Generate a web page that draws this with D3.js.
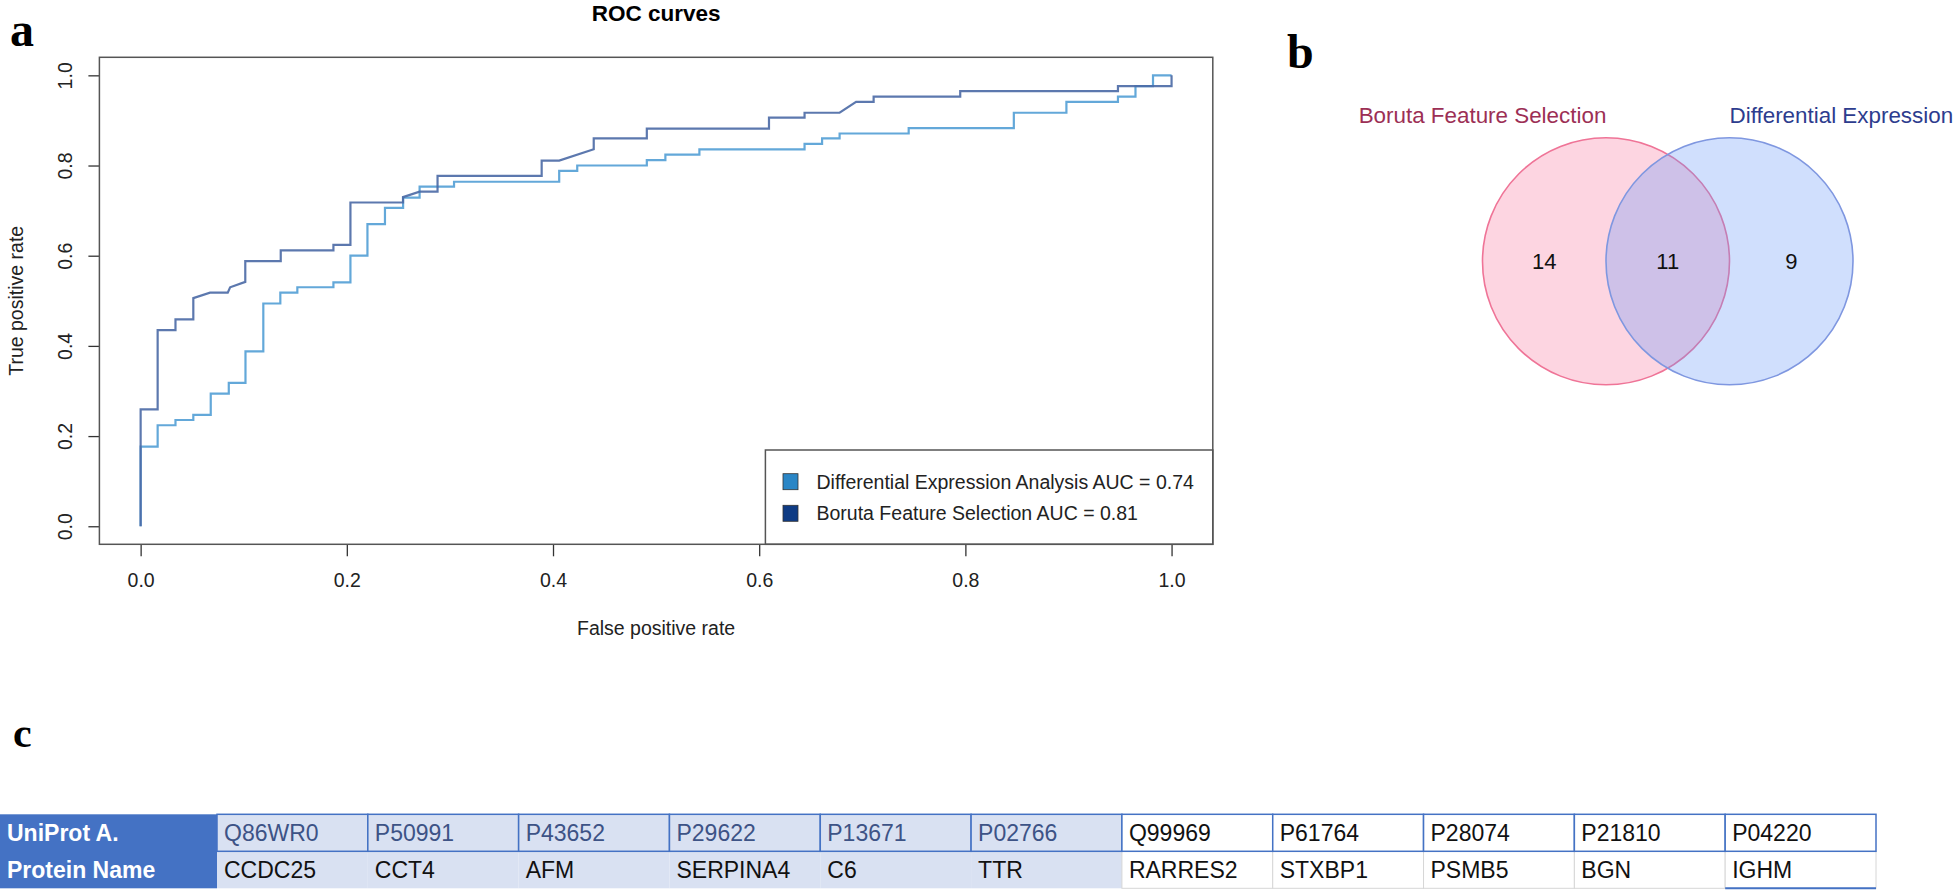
<!DOCTYPE html>
<html>
<head>
<meta charset="utf-8">
<script src="https://cdn.jsdelivr.net/npm/d3@7"></script>
<style>
  body { margin: 0; background: #fff; }
  svg { display: block; font-family: "Liberation Sans", Arial, sans-serif; }
</style>
</head>
<body>
<div id="fig"></div>
<script>
// ROC curve: Differential Expression Analysis
const deFpr = [0, 0, 0.0165, 0.0165, 0.0338, 0.0338, 0.0511, 0.0511, 0.068, 0.068, 0.0855, 0.0855,
  0.1017, 0.1017, 0.119, 0.119, 0.1355, 0.1355, 0.152, 0.152, 0.187, 0.187, 0.2035, 0.2035,
  0.22, 0.22, 0.237, 0.237, 0.2546, 0.2546, 0.2706, 0.2706, 0.304, 0.304, 0.406, 0.406,
  0.4235, 0.4235, 0.491, 0.491, 0.509, 0.509, 0.542, 0.542, 0.644, 0.644, 0.661, 0.661,
  0.678, 0.678, 0.745, 0.745, 0.847, 0.847, 0.898, 0.898, 0.948, 0.948, 0.965, 0.965,
  0.982, 0.982, 1];
const deTpr = [0, 0.1765, 0.1765, 0.224, 0.224, 0.2357, 0.2357, 0.247, 0.247, 0.294, 0.294, 0.318,
  0.318, 0.388, 0.388, 0.494, 0.494, 0.518, 0.518, 0.530, 0.530, 0.541, 0.541, 0.600,
  0.600, 0.670, 0.670, 0.706, 0.706, 0.7286, 0.7286, 0.753, 0.753, 0.764, 0.764, 0.788,
  0.788, 0.800, 0.800, 0.812, 0.812, 0.824, 0.824, 0.836, 0.836, 0.848, 0.848, 0.860,
  0.860, 0.871, 0.871, 0.883, 0.883, 0.917, 0.917, 0.941, 0.941, 0.953, 0.953, 0.976,
  0.976, 1, 1];

// ROC curve: Boruta Feature Selection
const borutaFpr = [0, 0, 0.0165, 0.0165, 0.0338, 0.0338, 0.0511, 0.0511, 0.0673, 0.0845, 0.0868,
  0.1015, 0.1015, 0.1359, 0.1359, 0.187, 0.187, 0.2035, 0.2035, 0.2545, 0.2545, 0.2706,
  0.288, 0.288, 0.389, 0.389, 0.406, 0.4395, 0.4395, 0.491, 0.491, 0.6095, 0.6095, 0.644,
  0.644, 0.678, 0.694, 0.711, 0.711, 0.795, 0.795, 0.948, 0.948, 1, 1];
const borutaTpr = [0, 0.259, 0.259, 0.435, 0.435, 0.459, 0.459, 0.506, 0.518, 0.518, 0.530,
  0.542, 0.588, 0.588, 0.612, 0.612, 0.624, 0.624, 0.718, 0.718, 0.730, 0.742,
  0.742, 0.777, 0.777, 0.811, 0.811, 0.836, 0.860, 0.860, 0.882, 0.882, 0.906, 0.906,
  0.917, 0.917, 0.941, 0.941, 0.953, 0.953, 0.965, 0.965, 0.976, 0.976, 1];

const rocTicks = [0, 0.2, 0.4, 0.6, 0.8, 1.0];
const legendLabels = ["Differential Expression Analysis AUC = 0.74", "Boruta Feature Selection AUC = 0.81"];

// Venn diagram
const vennSets = ["Boruta Feature Selection", "Differential Expression"];
const vennCounts = [14, 11, 9];

// Table
const rowLabels = ["UniProt A.", "Protein Name"];
const uniprotIds = ["Q86WR0", "P50991", "P43652", "P29622", "P13671", "P02766",
  "Q99969", "P61764", "P28074", "P21810", "P04220"];
const proteinNames = ["CCDC25", "CCT4", "AFM", "SERPINA4", "C6", "TTR",
  "RARRES2", "STXBP1", "PSMB5", "BGN", "IGHM"];
const sharedCount = 6;

const W = 1958, H = 892;
const svg = d3.select('#fig').append('svg').attr('width', W).attr('height', H);

const serif = '"Liberation Serif", "Times New Roman", serif';
function panelLabel(t, x, y, size) {
  svg.append('text').attr('x', x).attr('y', y).text(t)
    .style('font-family', serif).style('font-weight', 'bold').style('font-size', size + 'px');
}
panelLabel('a', 10, 46, 48);
panelLabel('b', 1287, 68, 48);
panelLabel('c', 13, 747, 42);

// ---------- ROC panel ----------
const plot = { left: 99.4, right: 1212.8, top: 57.3, bottom: 544.3 };
const x = d3.scaleLinear().domain([-0.04, 1.04]).range([plot.left, plot.right]);
const y = d3.scaleLinear().domain([-0.04, 1.04]).range([plot.bottom, plot.top]);
const fs = 19.5;
const colDE = '#63a8d9', colBoruta = '#4a69a5';

svg.append('text').attr('x', (plot.left + plot.right) / 2).attr('y', 20.5)
  .attr('text-anchor', 'middle').style('font-weight', 'bold').style('font-size', '22.5px')
  .text('ROC curves');

const xAxis = svg.append('g').attr('transform', `translate(0,${plot.bottom})`)
  .call(d3.axisBottom(x).tickValues(rocTicks).tickFormat(d3.format('.1f')).tickSize(12).tickPadding(17));
const yAxis = svg.append('g').attr('transform', `translate(${plot.left},0)`)
  .call(d3.axisLeft(y).tickValues(rocTicks).tickFormat(d3.format('.1f')).tickSize(11));
[xAxis, yAxis].forEach(g => {
  g.select('.domain').remove();
  g.selectAll('line').attr('stroke', '#333').attr('stroke-width', 1.3);
  g.selectAll('text').style('font-size', fs + 'px').style('font-family', '"Liberation Sans", Arial, sans-serif').attr('fill', '#222');
});
yAxis.selectAll('text')
  .attr('x', null).attr('dy', '0.35em')
  .attr('text-anchor', 'middle')
  .attr('transform', `translate(${64.7 - plot.left},0) rotate(-90)`);

svg.append('text').attr('x', (plot.left + plot.right) / 2).attr('y', 628).attr('dy', '0.35em')
  .attr('text-anchor', 'middle').style('font-size', fs + 'px').attr('fill', '#222')
  .text('False positive rate');
svg.append('text').attr('transform', `translate(16.5,${(plot.top + plot.bottom) / 2}) rotate(-90)`)
  .attr('dy', '0.35em').attr('text-anchor', 'middle').style('font-size', fs + 'px').attr('fill', '#222')
  .text('True positive rate');

const line = d3.line().x(d => x(d[0])).y(d => y(d[1]));
svg.append('path').datum(d3.zip(deFpr, deTpr)).attr('d', line)
  .attr('fill', 'none').attr('stroke', colDE).attr('stroke-width', 2.2);
svg.append('path').datum(d3.zip(borutaFpr, borutaTpr)).attr('d', line)
  .attr('fill', 'none').attr('stroke', colBoruta).attr('stroke-width', 2.2).attr('stroke-opacity', 0.9);

// legend
const leg = svg.append('g');
leg.append('rect').attr('x', 765.4).attr('y', 450).attr('width', plot.right - 765.4).attr('height', plot.bottom - 450)
  .attr('fill', '#fff').attr('stroke', '#555').attr('stroke-width', 1.5);
const legY = d3.scalePoint().domain(legendLabels).range([481.7, 513.3]);
const legCols = ['#2a86c6', '#0e3b84'];
legendLabels.forEach((t, i) => {
  leg.append('rect').attr('x', 783).attr('y', legY(t) - 8).attr('width', 15).attr('height', 16)
    .attr('fill', legCols[i]).attr('stroke', '#333').attr('stroke-width', 0.8);
  leg.append('text').attr('x', 816.5).attr('y', legY(t)).attr('dy', '0.36em')
    .style('font-size', fs + 'px').attr('fill', '#222').text(t);
});

// plot box
svg.append('rect').attr('x', plot.left).attr('y', plot.top)
  .attr('width', plot.right - plot.left).attr('height', plot.bottom - plot.top)
  .attr('fill', 'none').attr('stroke', '#555').attr('stroke-width', 1.5);

// ---------- Venn panel ----------
const vx = d3.scaleLinear().domain([-1, 2]).range([1482.5, 1853]);
const vy = 261.3;
const vr = vx(1) - vx(0);
const venn = svg.append('g');
venn.append('circle').attr('cx', vx(0)).attr('cy', vy).attr('r', vr)
  .attr('fill', 'rgba(250,150,180,0.4)').attr('stroke', '#ef7497').attr('stroke-width', 1.6);
venn.append('circle').attr('cx', vx(1)).attr('cy', vy).attr('r', vr)
  .attr('fill', 'rgba(100,150,250,0.3)').attr('stroke', '#7f97e0').attr('stroke-width', 1.6);
const countPos = [-0.5, 0.5, 1.5];
vennCounts.forEach((c, i) => {
  venn.append('text').attr('x', vx(countPos[i])).attr('y', vy).attr('dy', '0.36em')
    .attr('text-anchor', 'middle').style('font-size', '22px').attr('fill', '#111').text(c);
});
venn.append('text').attr('x', vx(-1)).attr('y', 122.7).attr('text-anchor', 'middle')
  .style('font-size', '22.4px').attr('fill', '#9c2f55').text(vennSets[0]);
venn.append('text').attr('x', vx(1)).attr('y', 122.7).attr('text-anchor', 'start')
  .style('font-size', '22.4px').attr('fill', '#2d3c8e').text(vennSets[1]);

// ---------- Table panel ----------
const colX = d3.scaleBand().domain(uniprotIds).range([217, 1876]);
const rowY = d3.scaleBand().domain(rowLabels).range([814.3, 888.3]);
const tfs = 23;
const blue = '#4472c4', shade = '#d9e1f2';
const tbl = svg.append('g').style('font-family', '"Liberation Sans", Arial, sans-serif');

tbl.append('rect').attr('x', 0).attr('y', rowY.range()[0]).attr('width', colX.range()[0])
  .attr('height', rowY.range()[1] - rowY.range()[0]).attr('fill', blue);
rowLabels.forEach(r => {
  tbl.append('text').attr('x', 7).attr('y', rowY(r) + rowY.bandwidth() / 2).attr('dy', '0.36em')
    .style('font-size', tfs + 'px').style('font-weight', 'bold').attr('fill', '#fff').text(r);
});

// row 2 (protein names)
proteinNames.forEach((p, i) => {
  const id = uniprotIds[i];
  const shared = i < sharedCount;
  tbl.append('rect').attr('x', colX(id)).attr('y', rowY(rowLabels[1]))
    .attr('width', colX.bandwidth()).attr('height', rowY.bandwidth())
    .attr('fill', shared ? shade : '#fff')
    .attr('stroke', shared ? 'none' : '#d6d6d6').attr('stroke-width', 1);
  tbl.append('text').attr('x', colX(id) + 7).attr('y', rowY(rowLabels[1]) + rowY.bandwidth() / 2)
    .attr('dy', '0.36em').style('font-size', tfs + 'px').attr('fill', '#111').text(p);
});
const lastId = uniprotIds[uniprotIds.length - 1];
tbl.append('line').attr('x1', colX(lastId)).attr('x2', colX(lastId) + colX.bandwidth())
  .attr('y1', rowY.range()[1]).attr('y2', rowY.range()[1]).attr('stroke', blue).attr('stroke-width', 2);

// row 1 (accessions)
uniprotIds.forEach((id, i) => {
  const shared = i < sharedCount;
  tbl.append('rect').attr('x', colX(id)).attr('y', rowY(rowLabels[0]))
    .attr('width', colX.bandwidth()).attr('height', rowY.bandwidth())
    .attr('fill', shared ? shade : '#fff').attr('stroke', blue).attr('stroke-width', 1.5);
  tbl.append('text').attr('x', colX(id) + 7).attr('y', rowY(rowLabels[0]) + rowY.bandwidth() / 2)
    .attr('dy', '0.36em').style('font-size', tfs + 'px')
    .attr('fill', shared ? '#3d5386' : '#111').text(id);
});
</script>
</body>
</html>
